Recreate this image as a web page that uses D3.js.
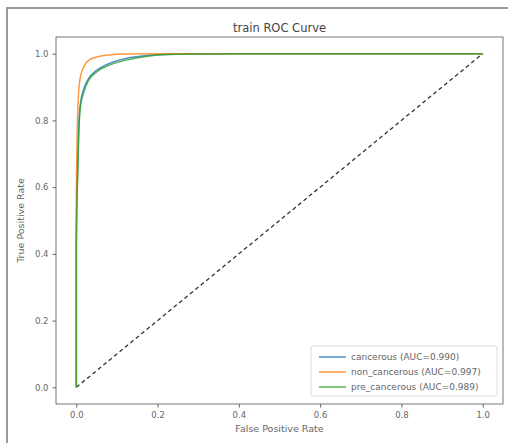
<!DOCTYPE html>
<html>
<head>
<meta charset="utf-8">
<script src="https://cdn.jsdelivr.net/npm/d3@7"></script>
<style>
  body { margin: 0; background: #fff; }
  svg { font-family: "DejaVu Sans", sans-serif; }
</style>
</head>
<body>
<svg id="chart" width="508" height="443"></svg>
<script>
// ROC points (fpr, tpr)
var cancerousFpr = [0, 0, 0.003, 0.006, 0.01, 0.02, 0.03, 0.05, 0.08, 0.12, 0.18, 0.25, 0.4, 1];
var cancerousTpr = [0, 0.45, 0.65, 0.78, 0.85, 0.9, 0.925, 0.95, 0.97, 0.985, 0.995, 0.999, 1, 1];

var nonCancerousFpr = [0, 0, 0.002, 0.005, 0.01, 0.02, 0.03, 0.05, 0.08, 0.12, 0.2, 1];
var nonCancerousTpr = [0, 0.55, 0.75, 0.87, 0.93, 0.965, 0.98, 0.99, 0.996, 0.999, 1, 1];

var preCancerousFpr = [0, 0, 0.003, 0.006, 0.01, 0.02, 0.03, 0.05, 0.08, 0.12, 0.18, 0.25, 0.4, 1];
var preCancerousTpr = [0, 0.42, 0.62, 0.76, 0.84, 0.89, 0.92, 0.945, 0.965, 0.98, 0.993, 0.998, 1, 1];

var seriesNames = ["cancerous (AUC=0.990)", "non_cancerous (AUC=0.997)", "pre_cancerous (AUC=0.989)"];
var seriesColors = ["#1f77b4", "#ff7f0e", "#2ca02c"];
var tickValues = [0, 0.2, 0.4, 0.6, 0.8, 1.0];

var svg = d3.select("#chart");

// frame box of the axes
var frame = {left: 56, right: 503, top: 37, bottom: 404};

var x = d3.scaleLinear().domain([-0.05, 1.05]).range([frame.left, frame.right]);
var y = d3.scaleLinear().domain([-0.05, 1.05]).range([frame.bottom, frame.top]);

// outer figure border
svg.append("rect")
    .attr("x", 7).attr("y", 8)
    .attr("width", 520).attr("height", 460)
    .style("fill", "none")
    .style("stroke", "#9a9a9a")
    .style("stroke-width", 2);

svg.append("text")
    .attr("x", (frame.left + frame.right) / 2)
    .attr("y", 32)
    .attr("text-anchor", "middle")
    .style("font-size", "11.5px")
    .style("fill", "#444")
    .text("train ROC Curve");

var xAxis = d3.axisBottom(x).tickValues(tickValues).tickFormat(d3.format(".1f")).tickSize(3.5).tickPadding(4);
var yAxis = d3.axisLeft(y).tickValues(tickValues).tickFormat(d3.format(".1f")).tickSize(3.5).tickPadding(4);

var gx = svg.append("g")
    .attr("transform", "translate(0," + frame.bottom + ")")
    .call(xAxis);
var gy = svg.append("g")
    .attr("transform", "translate(" + frame.left + ",0)")
    .call(yAxis);

[gx, gy].forEach(function(g) {
    g.select(".domain").remove();
    g.selectAll(".tick line").style("stroke", "#666");
    g.selectAll(".tick text")
        .style("font-family", "DejaVu Sans, sans-serif")
        .style("font-size", "8.5px")
        .style("fill", "#666");
});

svg.append("text")
    .attr("x", (frame.left + frame.right) / 2)
    .attr("y", 432)
    .attr("text-anchor", "middle")
    .style("font-size", "9.5px")
    .style("fill", "#666")
    .text("False Positive Rate");

svg.append("text")
    .attr("transform", "translate(24," + ((frame.top + frame.bottom) / 2) + ") rotate(-90)")
    .attr("text-anchor", "middle")
    .style("font-size", "9.5px")
    .style("fill", "#666")
    .text("True Positive Rate");

// chance line
svg.append("line")
    .attr("x1", x(0)).attr("y1", y(0))
    .attr("x2", x(1)).attr("y2", y(1))
    .style("stroke", "#333")
    .style("stroke-width", 1.3)
    .style("stroke-dasharray", "4,3");

var series = [
    {fpr: cancerousFpr, tpr: cancerousTpr},
    {fpr: nonCancerousFpr, tpr: nonCancerousTpr},
    {fpr: preCancerousFpr, tpr: preCancerousTpr}
];

var line = d3.line()
    .x(function(d) { return x(d[0]); })
    .y(function(d) { return y(d[1]); })
    .curve(d3.curveMonotoneX);

series.forEach(function(s, i) {
    var pts = s.fpr.map(function(f, j) { return [f, s.tpr[j]]; });
    svg.append("path")
        .datum(pts)
        .attr("d", line)
        .style("fill", "none")
        .style("stroke", seriesColors[i])
        .style("stroke-width", 1.5)
        .style("opacity", 0.8);
});

// axes frame on top
svg.append("rect")
    .attr("x", frame.left).attr("y", frame.top)
    .attr("width", frame.right - frame.left)
    .attr("height", frame.bottom - frame.top)
    .style("fill", "none")
    .style("stroke", "#555")
    .style("stroke-width", 0.8);

// legend
var legend = svg.append("g").attr("transform", "translate(311,346)");
legend.append("rect")
    .attr("width", 186).attr("height", 50)
    .attr("rx", 2)
    .style("fill", "#fff")
    .style("fill-opacity", 0.8)
    .style("stroke", "#d0d0d0")
    .style("stroke-width", 0.8);

var items = legend.selectAll(".item")
    .data(seriesNames)
    .enter()
    .append("g")
    .attr("class", "item")
    .attr("transform", function(d, i) { return "translate(0," + (11 + i * 15) + ")"; });

items.append("line")
    .attr("x1", 8).attr("x2", 35)
    .style("stroke", function(d, i) { return seriesColors[i]; })
    .style("stroke-width", 1.5)
    .style("opacity", 0.8);

items.append("text")
    .attr("x", 40)
    .attr("dy", "0.35em")
    .style("font-size", "9px")
    .style("fill", "#666")
    .text(function(d) { return d; });
</script>
</body>
</html>
